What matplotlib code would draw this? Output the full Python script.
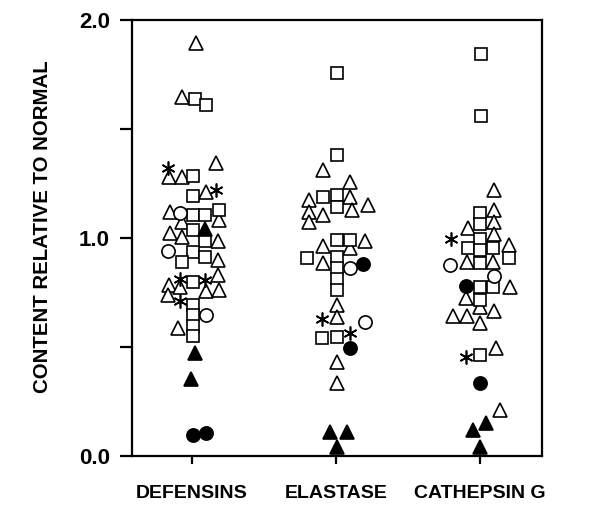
import matplotlib.pyplot as plt

categories = ["DEFENSINS", "ELASTASE", "CATHEPSIN G"]

# (horizontal jitter, content relative to normal) for each patient symbol
open_triangles = {
    "DEFENSINS": [(0.03, 1.894), (-0.07, 1.647), (0.17, 1.344), (-0.16, 1.280), (-0.07, 1.280),
                  (0.10, 1.211), (-0.15, 1.119), (-0.07, 1.073), (0.19, 1.083), (-0.15, 1.023),
                  (-0.07, 1.005), (0.18, 0.986), (0.18, 0.899), (0.18, 0.830), (-0.16, 0.784),
                  (-0.08, 0.775), (0.10, 0.757), (0.19, 0.761), (-0.17, 0.739), (-0.10, 0.587)],
    "ELASTASE": [(-0.09, 1.312), (0.10, 1.257), (-0.19, 1.174), (0.10, 1.188), (0.11, 1.128),
                 (0.22, 1.151), (-0.19, 1.119), (-0.09, 1.106), (-0.19, 1.073), (-0.09, 0.963),
                 (0.10, 0.954), (0.20, 0.986), (-0.09, 0.885), (0.01, 0.693), (0.01, 0.638),
                 (0.01, 0.431), (0.01, 0.335)],
    "CATHEPSIN G": [(0.10, 1.220), (0.10, 1.128), (0.10, 1.073), (-0.08, 1.046), (0.10, 1.018),
                    (0.20, 0.968), (-0.09, 0.890), (0.09, 0.890), (0.21, 0.775), (-0.10, 0.725),
                    (0.00, 0.683), (-0.19, 0.642), (-0.09, 0.642), (0.10, 0.665), (0.00, 0.610),
                    (0.11, 0.495), (0.14, 0.211)],
}
open_squares = {
    "DEFENSINS": [(0.02, 1.638), (0.10, 1.610), (0.01, 1.284), (0.01, 1.193), (0.01, 1.106),
                  (0.09, 1.106), (0.19, 1.128), (0.01, 1.037), (0.09, 0.986), (0.01, 0.936),
                  (-0.07, 0.890), (0.09, 0.913), (0.01, 0.798), (0.01, 0.693), (0.01, 0.647),
                  (0.01, 0.596), (0.01, 0.550)],
    "ELASTASE": [(0.01, 1.757), (0.01, 1.381), (-0.09, 1.188), (0.01, 1.197), (0.01, 1.142),
                 (0.01, 0.991), (0.10, 0.991), (-0.20, 0.908), (0.01, 0.913), (0.01, 0.862),
                 (0.01, 0.812), (0.01, 0.761), (-0.10, 0.541), (0.01, 0.546)],
    "CATHEPSIN G": [(0.01, 1.844), (0.01, 1.560), (0.00, 1.115), (0.00, 1.064), (0.00, 0.995),
                    (-0.08, 0.954), (0.00, 0.945), (0.09, 0.954), (0.20, 0.908), (0.00, 0.885),
                    (0.00, 0.775), (0.09, 0.775), (0.00, 0.716), (0.00, 0.463)],
}
open_circles = {
    "DEFENSINS": [(-0.08, 1.115), (-0.17, 0.940), (0.10, 0.647)],
    "ELASTASE": [(0.10, 0.862), (0.20, 0.615)],
    "CATHEPSIN G": [(-0.21, 0.876), (0.10, 0.826)],
}
asterisks = {
    "DEFENSINS": [(-0.17, 1.321), (0.17, 1.220), (-0.08, 0.812), (0.09, 0.807), (-0.08, 0.711)],
    "ELASTASE": [(-0.10, 0.628), (0.10, 0.564)],
    "CATHEPSIN G": [(-0.20, 0.995), (-0.10, 0.454)],
}
filled_triangles = {
    "DEFENSINS": [(0.09, 1.041), (0.02, 0.472), (-0.01, 0.353)],
    "ELASTASE": [(-0.04, 0.110), (0.08, 0.110), (0.01, 0.041)],
    "CATHEPSIN G": [(-0.05, 0.119), (0.04, 0.151), (0.00, 0.041)],
}
filled_circles = {
    "DEFENSINS": [(0.01, 0.096), (0.10, 0.106)],
    "ELASTASE": [(0.19, 0.881), (0.10, 0.495)],
    "CATHEPSIN G": [(-0.10, 0.780), (0.00, 0.335)],
}

y_ticks = [0.0, 0.5, 1.0, 1.5, 2.0]
y_tick_labels = ["0.0", "", "1.0", "", "2.0"]

plt.rcParams["font.family"] = ["Liberation Sans", "DejaVu Sans"]

fig = plt.figure(figsize=(5.9, 5.16), dpi=100)
ax = fig.add_axes([0.2237, 0.1163, 0.6949, 0.8449])

styles = [
    (open_triangles, dict(marker="^", markersize=10.5, markerfacecolor="white")),
    (open_squares, dict(marker="s", markersize=8.8, markerfacecolor="white")),
    (open_circles, dict(marker="o", markersize=9.5, markerfacecolor="white")),
    (asterisks, dict(marker=(6, 2, 0), markersize=10, markerfacecolor="white")),
    (filled_triangles, dict(marker="^", markersize=10.5, markerfacecolor="black")),
    (filled_circles, dict(marker="o", markersize=9.5, markerfacecolor="black")),
]

for points, style in styles:
    for i, name in enumerate(categories):
        xs = [i + 1 + dx for dx, _ in points[name]]
        ys = [v for _, v in points[name]]
        ax.plot(xs, ys, linestyle="None", markeredgecolor="black",
                markeredgewidth=1.2, clip_on=False, zorder=3, **style)

ax.set_xlim(0.5833, 3.4306)
ax.set_ylim(0.0, 2.0)
ax.set_xticks([1, 2, 3])
ax.set_xticklabels(categories, fontsize=14, fontweight="bold")
ax.set_yticks(y_ticks)
ax.set_yticklabels(y_tick_labels, fontsize=16, fontweight="bold")
ax.tick_params(axis="y", direction="out", length=9, width=1.6, pad=7)
ax.tick_params(axis="x", direction="out", length=6, width=1.6, pad=15)
for spine in ax.spines.values():
    spine.set_linewidth(1.6)

ax.set_ylabel("CONTENT RELATIVE TO NORMAL", fontsize=14.7, fontweight="bold")
# label sits a little above the axes' middle in the original
ax.yaxis.set_label_coords(-0.196, 0.525)

fig.savefig("out.png", dpi=100)
